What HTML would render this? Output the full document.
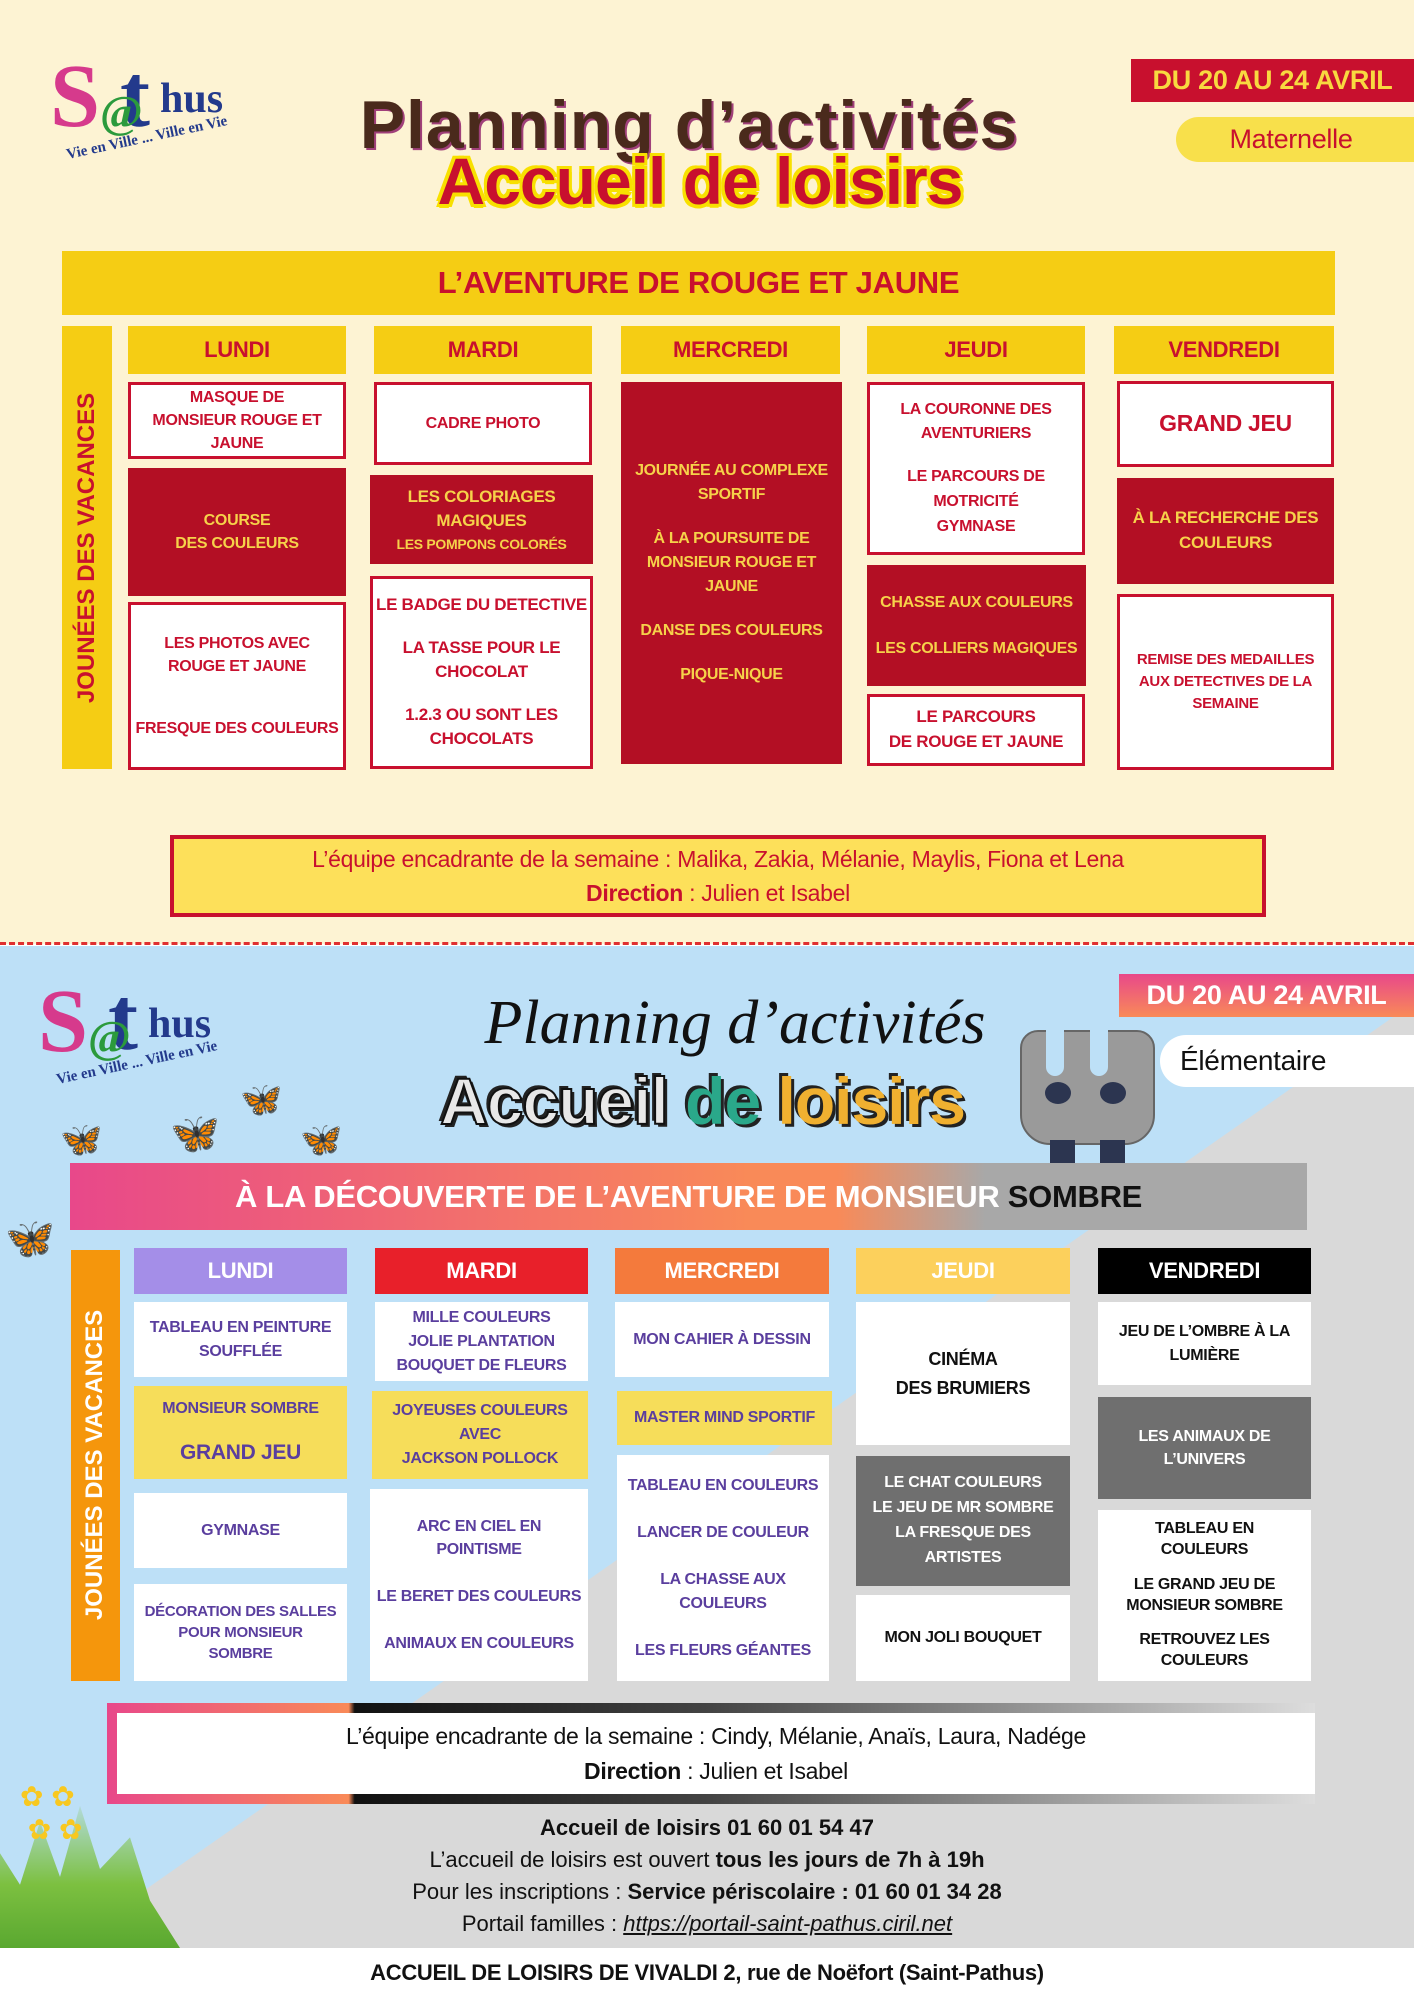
<!DOCTYPE html>
<html><head><meta charset="utf-8">
<style>
*{margin:0;padding:0;box-sizing:border-box}
body{width:1414px;height:2000px;position:relative;overflow:hidden;font-family:"Liberation Sans",sans-serif;background:#fff}
.a{position:absolute}
.b{position:absolute;display:flex;flex-direction:column;align-items:center;justify-content:center;text-align:center;font-weight:bold;font-size:16px;line-height:1.45;letter-spacing:-0.3px}
.w{background:#fff;border:3px solid #c8102e;color:#c8102e}
.r{background:#b30f24;color:#f6d24a}
.h1{background:#f5cd14;color:#c8102e;font-size:22px}
.p{color:#5a3e9e;background:#fff}
.y{background:#f6dd5a;color:#5a3e9e}
.k{color:#111;background:#fff}
.g{background:#6f6f6f;color:#fff}
.hb{color:#fff;font-size:22px}
</style></head><body>
<!-- TOP SECTION -->
<div class="a" style="left:0;top:0;width:1414px;height:944px;background:#fdf3d3"></div>
<div class="a" style="left:0;top:942px;width:1414px;height:4px;border-top:3px dashed #e03030"></div>
<!-- logo top -->
<div class="a" style="left:50px;top:45px;font:bold 90px 'Liberation Serif',serif;color:#d63a8c">S</div>
<div class="a" style="left:120px;top:45px;font:bold 90px 'Liberation Serif',serif;color:#233a8c">t</div>
<div class="a" style="left:160px;top:75px;font:bold 42px 'Liberation Serif',serif;color:#233a8c">hus</div>
<div class="a" style="left:100px;top:85px;font:bold 46px 'Liberation Serif',serif;color:#2b9a3c">@</div>
<div class="a" style="left:65px;top:130px;font:bold 15px 'Liberation Serif',serif;color:#233a8c;transform:rotate(-12deg)">Vie en Ville ... Ville en Vie</div>

<div class="b" style="left:1131px;top:59px;width:283px;height:43px;background:#c8102e;color:#f8d940;font-size:27px;justify-content:center">DU 20 AU 24 AVRIL</div>
<div class="b" style="left:1176px;top:117px;width:260px;height:45px;background:#f8e04b;color:#c8102e;font-size:27px;font-weight:normal;border-radius:24px 0 0 24px;padding-right:30px">Maternelle</div>

<div class="a" style="left:334px;top:86px;width:710px;text-align:center;font:bold 68px 'Liberation Sans',sans-serif;color:#4a2a1c;letter-spacing:1px;text-shadow:2px 2px 0 #a0407a">Planning d’activités</div>
<div class="a" style="left:410px;top:143px;width:580px;text-align:center;font:bold 66px 'Liberation Sans',sans-serif;color:#c8102e;letter-spacing:-1px;text-shadow:-3px -3px 0 #f8e000,3px -3px 0 #f8e000,-3px 3px 0 #f8e000,3px 3px 0 #f8e000,0 4px 0 #f8e000">Accueil de loisirs</div>

<div class="b h1" style="left:62px;top:251px;width:1273px;height:64px;font-size:31px">L’AVENTURE DE ROUGE ET JAUNE</div>
<div class="a" style="left:62px;top:326px;width:50px;height:443px;background:#f5cd14"></div>
<div class="a" style="left:87px;top:548px;width:440px;transform:translate(-50%,-50%) rotate(-90deg);text-align:center;font:bold 24px 'Liberation Sans',sans-serif;color:#c8102e;white-space:nowrap">JOUNÉES DES VACANCES</div>

<div class="b h1" style="left:128px;top:326px;width:218px;height:48px">LUNDI</div>
<div class="b h1" style="left:374px;top:326px;width:218px;height:48px">MARDI</div>
<div class="b h1" style="left:621px;top:326px;width:219px;height:48px">MERCREDI</div>
<div class="b h1" style="left:867px;top:326px;width:218px;height:48px">JEUDI</div>
<div class="b h1" style="left:1114px;top:326px;width:220px;height:48px">VENDREDI</div>

<div class="b w" style="left:128px;top:382px;width:218px;height:77px">MASQUE DE<br>MONSIEUR ROUGE ET<br>JAUNE</div>
<div class="b r" style="left:128px;top:468px;width:218px;height:128px">COURSE<br>DES COULEURS</div>
<div class="b w" style="left:128px;top:602px;width:218px;height:168px"><span>LES PHOTOS AVEC<br>ROUGE ET JAUNE</span><span style="margin-top:38px">FRESQUE DES COULEURS</span></div>

<div class="b w" style="left:374px;top:382px;width:218px;height:83px">CADRE PHOTO</div>
<div class="b r" style="left:370px;top:475px;width:223px;height:89px;font-size:17px">LES COLORIAGES<br>MAGIQUES<span style="font-size:14px">LES POMPONS COLORÉS</span></div>
<div class="b w" style="left:370px;top:576px;width:223px;height:193px;font-size:17px"><span>LE BADGE DU DETECTIVE</span><span style="margin-top:18px">LA TASSE POUR LE<br>CHOCOLAT</span><span style="margin-top:18px">1.2.3 OU SONT LES<br>CHOCOLATS</span></div>

<div class="b r" style="left:621px;top:382px;width:221px;height:382px;line-height:1.5"><span>JOURNÉE AU COMPLEXE<br>SPORTIF</span><span style="margin-top:20px">À LA POURSUITE DE<br>MONSIEUR ROUGE ET<br>JAUNE</span><span style="margin-top:20px">DANSE DES COULEURS</span><span style="margin-top:20px">PIQUE-NIQUE</span></div>

<div class="b w" style="left:867px;top:382px;width:218px;height:173px;line-height:1.55"><span>LA COURONNE DES<br>AVENTURIERS</span><span style="margin-top:18px">LE PARCOURS DE<br>MOTRICITÉ<br>GYMNASE</span></div>
<div class="b r" style="left:867px;top:565px;width:219px;height:121px"><span>CHASSE AUX COULEURS</span><span style="margin-top:22px">LES COLLIERS MAGIQUES</span></div>
<div class="b w" style="left:867px;top:694px;width:218px;height:72px;font-size:17px">LE PARCOURS<br>DE ROUGE ET JAUNE</div>

<div class="b w" style="left:1117px;top:381px;width:217px;height:86px;font-size:23px">GRAND JEU</div>
<div class="b r" style="left:1117px;top:478px;width:217px;height:106px;font-size:17px">À LA RECHERCHE DES<br>COULEURS</div>
<div class="b w" style="left:1117px;top:594px;width:217px;height:176px;font-size:15px">REMISE DES MEDAILLES<br>AUX DETECTIVES DE LA<br>SEMAINE</div>

<div class="b" style="left:170px;top:835px;width:1096px;height:82px;background:#fde05a;border:4px solid #c8102e;color:#c8102e;font-weight:normal;font-size:23px;line-height:1.5">L’équipe encadrante de la semaine : Malika, Zakia, Mélanie, Maylis, Fiona et Lena<span><b>Direction</b> : Julien et Isabel</span></div>

<!-- BOTTOM SECTION -->
<div class="a" style="left:0;top:946px;width:1414px;height:1002px;background:#bde0f7"></div>
<div class="a" style="left:0;top:946px;width:1414px;height:1002px;background:#d9d9d9;clip-path:polygon(1489px 4px,1414px 4px,1414px 1002px,62px 1002px)"></div>
<!-- logo bottom -->
<div class="a" style="left:38px;top:970px;font:bold 90px 'Liberation Serif',serif;color:#d63a8c">S</div>
<div class="a" style="left:108px;top:968px;font:bold 90px 'Liberation Serif',serif;color:#233a8c">t</div>
<div class="a" style="left:148px;top:1000px;font:bold 42px 'Liberation Serif',serif;color:#233a8c">hus</div>
<div class="a" style="left:88px;top:1010px;font:bold 46px 'Liberation Serif',serif;color:#2b9a3c">@</div>
<div class="a" style="left:55px;top:1055px;font:bold 15px 'Liberation Serif',serif;color:#233a8c;transform:rotate(-12deg)">Vie en Ville ... Ville en Vie</div>
<!-- butterflies -->
<div class="a" style="left:60px;top:1120px;font-size:34px;color:#f08aa8">🦋</div>
<div class="a" style="left:170px;top:1110px;font-size:40px;color:#f08aa8">🦋</div>
<div class="a" style="left:240px;top:1080px;font-size:34px;color:#f08aa8">🦋</div>
<div class="a" style="left:300px;top:1120px;font-size:34px;color:#f08aa8">🦋</div>
<div class="a" style="left:5px;top:1215px;font-size:40px;color:#f08aa8">🦋</div>

<div class="b" style="left:1119px;top:974px;width:295px;height:43px;background:linear-gradient(#e8488a,#f98a58);color:#fff;font-size:27px">DU 20 AU 24 AVRIL</div>
<div class="b" style="left:1160px;top:1035px;width:280px;height:52px;background:#fff;color:#111;font-size:28px;font-weight:normal;border-radius:26px 0 0 26px;align-items:flex-start;padding-left:20px">Élémentaire</div>

<div class="a" style="left:470px;top:988px;width:530px;text-align:center;font:italic 62px 'Liberation Serif',serif;color:#111">Planning d’activités</div>
<div class="a" style="left:415px;top:1063px;width:575px;text-align:center;font:bold 66px 'Liberation Sans',sans-serif;letter-spacing:-1px;color:#111;text-shadow:-3px -3px 0 #222,3px 3px 0 #222"><span style="color:#e8e8e8;-webkit-text-stroke:2px #111">Accueil</span> <span style="color:#2aa88a">de</span> <span style="color:#f0b030">loisirs</span></div>
<!-- monster -->
<div class="a" style="left:1020px;top:1030px;width:135px;height:115px;background:#9a9a9a;border-radius:18px 18px 30px 30px;border:2px solid #666"></div>
<div class="a" style="left:1046px;top:1026px;width:18px;height:50px;background:#bde0f7;border-radius:0 0 9px 9px"></div>
<div class="a" style="left:1090px;top:1026px;width:18px;height:50px;background:#bde0f7;border-radius:0 0 9px 9px"></div>
<div class="a" style="left:1045px;top:1082px;width:26px;height:22px;background:#2c3550;border-radius:50%"></div>
<div class="a" style="left:1100px;top:1082px;width:26px;height:22px;background:#2c3550;border-radius:50%"></div>
<div class="a" style="left:1050px;top:1140px;width:25px;height:35px;background:#2c3550"></div>
<div class="a" style="left:1100px;top:1140px;width:25px;height:35px;background:#2c3550"></div>

<div class="b" style="left:70px;top:1163px;width:1237px;height:67px;background:linear-gradient(90deg,#e8488a 0%,#f98a58 55%,#f98a58 62%,#a8a8a8 74%,#a8a8a8 100%);color:#fff;font-size:31px;display:block;line-height:67px;text-align:center">À LA DÉCOUVERTE DE L’AVENTURE DE MONSIEUR <span style="color:#111">SOMBRE</span></div>

<div class="a" style="left:71px;top:1250px;width:49px;height:431px;background:#f5960c"></div>
<div class="a" style="left:95px;top:1465px;width:420px;transform:translate(-50%,-50%) rotate(-90deg);text-align:center;font:bold 24px 'Liberation Sans',sans-serif;color:#fff;white-space:nowrap">JOUNÉES DES VACANCES</div>

<div class="b hb" style="left:134px;top:1248px;width:213px;height:46px;background:#a48ee8">LUNDI</div>
<div class="b hb" style="left:375px;top:1248px;width:213px;height:46px;background:#e8202a">MARDI</div>
<div class="b hb" style="left:615px;top:1248px;width:214px;height:46px;background:#f47a3c">MERCREDI</div>
<div class="b hb" style="left:856px;top:1248px;width:214px;height:46px;background:#fcd05c">JEUDI</div>
<div class="b hb" style="left:1098px;top:1248px;width:213px;height:46px;background:#000">VENDREDI</div>

<div class="b p" style="left:134px;top:1302px;width:213px;height:75px">TABLEAU EN PEINTURE<br>SOUFFLÉE</div>
<div class="b y" style="left:134px;top:1386px;width:213px;height:93px"><span>MONSIEUR SOMBRE</span><span style="margin-top:18px;font-size:21px">GRAND JEU</span></div>
<div class="b p" style="left:134px;top:1493px;width:213px;height:75px">GYMNASE</div>
<div class="b p" style="left:134px;top:1584px;width:213px;height:97px;font-size:15px;line-height:1.4">DÉCORATION DES SALLES<br>POUR MONSIEUR<br>SOMBRE</div>

<div class="b p" style="left:375px;top:1302px;width:213px;height:79px;line-height:1.5">MILLE COULEURS<br>JOLIE PLANTATION<br>BOUQUET DE FLEURS</div>
<div class="b y" style="left:372px;top:1391px;width:216px;height:88px;line-height:1.5">JOYEUSES COULEURS<br>AVEC<br>JACKSON POLLOCK</div>
<div class="b p" style="left:370px;top:1489px;width:218px;height:192px"><span>ARC EN CIEL EN<br>POINTISME</span><span style="margin-top:24px">LE BERET DES COULEURS</span><span style="margin-top:24px">ANIMAUX EN COULEURS</span></div>

<div class="b p" style="left:615px;top:1302px;width:214px;height:75px">MON CAHIER À DESSIN</div>
<div class="b y" style="left:617px;top:1391px;width:215px;height:54px">MASTER MIND SPORTIF</div>
<div class="b p" style="left:617px;top:1455px;width:212px;height:226px"><span>TABLEAU EN COULEURS</span><span style="margin-top:24px">LANCER DE COULEUR</span><span style="margin-top:24px">LA CHASSE AUX<br>COULEURS</span><span style="margin-top:24px">LES FLEURS GÉANTES</span></div>

<div class="b k" style="left:856px;top:1302px;width:214px;height:143px;font-size:18px;line-height:1.6">CINÉMA<br>DES BRUMIERS</div>
<div class="b g" style="left:856px;top:1456px;width:214px;height:130px;line-height:1.55">LE CHAT COULEURS<br>LE JEU DE MR SOMBRE<br>LA FRESQUE DES<br>ARTISTES</div>
<div class="b k" style="left:856px;top:1595px;width:214px;height:86px">MON JOLI BOUQUET</div>

<div class="b k" style="left:1098px;top:1302px;width:213px;height:83px">JEU DE L’OMBRE À LA<br>LUMIÈRE</div>
<div class="b g" style="left:1098px;top:1397px;width:213px;height:102px">LES ANIMAUX DE<br>L’UNIVERS</div>
<div class="b k" style="left:1098px;top:1510px;width:213px;height:171px;line-height:1.3"><span>TABLEAU EN<br>COULEURS</span><span style="margin-top:14px">LE GRAND JEU DE<br>MONSIEUR SOMBRE</span><span style="margin-top:14px">RETROUVEZ LES<br>COULEURS</span></div>

<div class="a" style="left:107px;top:1703px;width:1208px;height:101px;background:linear-gradient(90deg,#e8488a 0%,#f98a58 20%,#111 20.5%,#444 50%,#ddd 100%)"></div>
<div class="b" style="left:117px;top:1713px;width:1198px;height:81px;background:#fff;color:#111;font-weight:normal;font-size:23px;line-height:1.5">L’équipe encadrante de la semaine : Cindy, Mélanie, Anaïs, Laura, Nadége<span><b>Direction</b> : Julien et Isabel</span></div>

<div class="a" style="left:0;top:1812px;width:1414px;text-align:center;font-size:22px;color:#111;line-height:32px">
<b>Accueil de loisirs 01 60 01 54 47</b><br>
L’accueil de loisirs est ouvert <b>tous les jours de 7h à 19h</b><br>
Pour les inscriptions : <b>Service périscolaire : 01 60 01 34 28</b><br>
Portail familles : <i><u>https://portail-saint-pathus.ciril.net </u></i></div>
<!-- flowers -->
<div class="a" style="left:0;top:1790px;width:180px;height:158px;background:linear-gradient(0deg,#5aa830 0%,#7cc040 40%,transparent 100%);clip-path:polygon(0 100%,0 40%,20px 60%,40px 20%,60px 55%,80px 10%,100px 50%,130px 30%,150px 70%,180px 100%)"></div>
<div class="a" style="left:20px;top:1780px;font-size:28px;color:#f8c820">✿ ✿<br>&nbsp;✿ ✿</div>

<div class="b" style="left:0;top:1950px;width:1414px;height:45px;color:#111;font-size:22px">ACCUEIL DE LOISIRS DE VIVALDI 2, rue de Noëfort (Saint-Pathus)</div>
</body></html>
